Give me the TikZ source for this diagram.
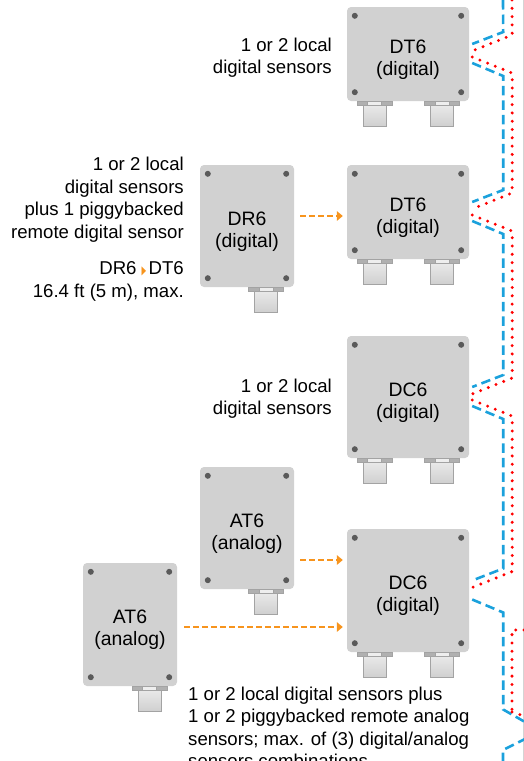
\documentclass[tikz,border=0pt]{standalone}
\usepackage{fontspec}
\setmainfont{Liberation Sans}
\newfontfamily\symfont{DejaVu Sans}
\usetikzlibrary{arrows.meta,positioning,calc}
\definecolor{UnitGray}{HTML}{D1D1D1}
\definecolor{ScrewGray}{HTML}{5A5A5A}
\definecolor{PlugGray}{HTML}{CFCFCF}
\definecolor{PlugEdge}{HTML}{A3A3A3}
\definecolor{FeedOrange}{HTML}{F7941D}
\definecolor{BusBlue}{HTML}{1BA1DC}
\definecolor{BusRed}{HTML}{FF0000}
\definecolor{FrameGray}{HTML}{D4D4D4}
\newcommand{\feedtri}{\raisebox{0.5pt}{\color{FeedOrange}\symfont\scalebox{0.5}[1]{\fontsize{12}{12}\selectfont ▶}}}
\newcommand{\tallstrut}{\rule{0pt}{25pt}}

\begin{document}
\begin{tikzpicture}[
    x=1pt, y=-1pt,
    font=\fontsize{18.6}{22.5}\selectfont,
    unit/.style={fill=UnitGray, rounded corners=4pt, align=center, inner sep=0pt,
      font=\fontsize{19.4}{22}\selectfont},
    wide/.style={unit, minimum width=122pt, minimum height=#1},
    narrow/.style={unit, minimum width=94pt, minimum height=#1},
    note/.style={inner sep=0pt, align=right, anchor=north east},
    flange/.style={fill=PlugGray!85!black, draw=PlugEdge, line width=0.6pt},
    plugbody/.style={top color=PlugGray!45!white, bottom color=PlugGray, draw=PlugEdge, line width=0.9pt},
    feed/.style={draw=FeedOrange, line width=2pt, dash pattern=on 5.5pt off 3.5pt, -{Triangle[length=6pt, width=9.5pt]}},
    blueline/.style={draw=BusBlue, line width=2.6pt, dash pattern=on 9.5pt off 5pt},
    redline/.style={draw=BusRed, line width=3.3pt, line cap=round, dash pattern=on 0pt off 8.3pt}
]
  \useasboundingbox (0,0) rectangle (524,761);

  % frame edge on the right
  \draw[FrameGray, line width=1pt] (523,0) -- (523,761);

  % =========================================================================
  % UNITS
  % =========================================================================
  \node[wide=94pt] (dtA) at (408,54) {\tallstrut DT6\\(digital)};
  \node[wide=94pt] (dtB) at (408,212) {\tallstrut DT6\\(digital)};
  \node[narrow=122pt] (drA) at (247,226) {\tallstrut DR6\\(digital)};
  \node[wide=122pt] (dcA) at (408,397) {\tallstrut DC6\\(digital)};
  \node[wide=123pt] (dcB) at (408,590.5) {\tallstrut DC6\\(digital)};
  \node[narrow=122pt] (atA) at (247,528) {\tallstrut AT6\\(analog)};
  \node[narrow=123pt] (atB) at (130,624.5) {\tallstrut AT6\\(analog)};

  % screws
  \foreach \u in {dtA,dtB,drA,dcA,dcB,atA,atB}{
    \fill[ScrewGray] ($(\u.north west)+(8,9)$) circle (3pt);
    \fill[ScrewGray] ($(\u.north east)+(-8,9)$) circle (3pt);
    \fill[ScrewGray] ($(\u.south west)+(8,-9)$) circle (3pt);
    \fill[ScrewGray] ($(\u.south east)+(-8,-9)$) circle (3pt);
  }

  % sensor plugs
  \foreach \u/\dx in {dtA/-33.5, dtA/34, dtB/-33.5, dtB/34, dcA/-33.5, dcA/34, dcB/-33.5, dcB/34, drA/19, atA/19, atB/19.5}{
    \draw[plugbody] ($(\u.south)+(\dx-11.5,3.5)$) rectangle ++(23,22);
    \draw[flange] ($(\u.south)+(\dx-17.5,0)$) rectangle ++(35,4);
    \draw[flange, fill=PlugGray!35!white] ($(\u.south)+(\dx-7,0)$) rectangle ++(14,4);
  }

  % =========================================================================
  % NOTES
  % =========================================================================
  \node[note] (dtAnote) at (332,37.5) {1 or 2 local\\digital sensors};
  \node[note] (drAnote) at (184,157) {1 or 2 local\\digital sensors\\plus 1 piggybacked\\remote digital sensor};
  \node[note] (drAreach) at (184,261.5) {DR6\hspace{5pt}\feedtri\hspace{2.5pt}DT6\\16.4 ft (5 m), max.};
  \node[note] (dcAnote) at (332,378.5) {1 or 2 local\\digital sensors};
  \node[inner sep=0pt, align=left, anchor=north west] (dcBnote) at (188,686.5)
    {1 or 2 local digital sensors plus\\1 or 2 piggybacked remote analog\\sensors; max. of (3) digital/analog\\sensors combinations};

  % =========================================================================
  % PIGGYBACK FEEDS
  % =========================================================================
  \draw[feed] ($(drA.east)+(6,-10)$) -- ($(dtB.west)+(-4,4)$);
  \draw[feed] ($(atA.east)+(6,32)$) -- ($(dcB.west)+(-4,-30.5)$);
  \draw[feed] ($(atB.east)+(7,2.5)$) -- ($(dcB.west)+(-4,36.5)$);

  % =========================================================================
  % NETWORK CABLES
  % =========================================================================
  \foreach \u in {dtA,dtB,dcA,dcB}{
    \coordinate (\u-bi) at ($(\u.east)+(3,-10)$);
    \coordinate (\u-ri) at ($(\u.east)+(3,-3)$);
    \coordinate (\u-ro) at ($(\u.east)+(3,3)$);
    \coordinate (\u-bo) at ($(\u.east)+(3,9)$);
  }
  \coordinate (bTop) at (503,0);
  \coordinate (rTop) at (512,0);
  \coordinate (bOff) at (525,722);
  \coordinate (bLow) at (503,762);
  \coordinate (bRise) at (525,739);
  \coordinate (rIn) at (524,630);
  \coordinate (rOff) at (524,716);

  \draw[blueline] (bTop) -- ($(dtA-bi)+(31,-12)$) -- (dtA-bi);
  \draw[blueline] (dtA-bo) -- ++(31,13) -- ($(dtB-bi)+(31,-12)$) -- (dtB-bi);
  \draw[blueline] (dtB-bo) -- ++(31,13) -- ($(dcA-bi)+(31,-12)$) -- (dcA-bi);
  \draw[blueline] (dcA-bo) -- ++(31,13) -- ($(dcB-bi)+(31,-12)$) -- (dcB-bi);
  \draw[blueline] (dcB-bo) -- ++(31,13) -- ($(dcB-bo)+(31,110)$) -- (bOff);
  \draw[blueline] (bLow) -- ++(0,-12) -- (bRise);

  \draw[redline] (rTop) -- ($(dtA-ri)+(40,-16)$) -- (dtA-ri);
  \draw[redline] (dtA-ro) -- ++(40,16) -- ($(dtB-ri)+(40,-16)$) -- (dtB-ri);
  \draw[redline] (dtB-ro) -- ++(40,16) -- ($(dcA-ri)+(40,-16)$) -- (dcA-ri);
  \draw[redline] (dcA-ro) -- ++(40,16) -- ($(dcB-ri)+(40,-16)$) -- (dcB-ri);
  \draw[redline] (rIn) -- (rIn -| rTop) -- (rTop |- rOff) ++(0,-4) -- (rOff);

\end{tikzpicture}
\end{document}
